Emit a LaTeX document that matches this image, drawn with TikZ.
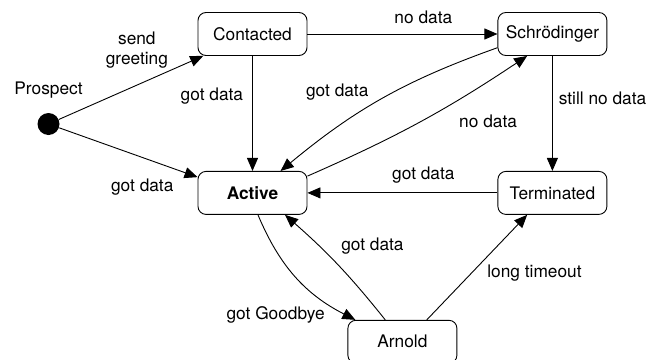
\documentclass[tikz,border=0pt]{standalone}
\usepackage{fontspec}
\setmainfont{TeX Gyre Heros}
\usetikzlibrary{positioning, arrows.meta}
\tikzset{->, >={Triangle[length=13pt, width=11pt]}, node distance = 115pt}

\begin{document}
\begin{tikzpicture}[x=1pt, y=1pt, line width=0.9pt, font=\fontsize{17.3}{20.5}\selectfont,
state_box/.style={rectangle, rounded corners=8pt, draw=black, fill=white, minimum width=109pt, minimum height=43pt, inner sep=0pt},
start_dot/.style={circle, fill=black, minimum size=22pt, inner sep=0pt},
edge_label/.style={inner sep=2pt, align=center}]
    \useasboundingbox (0,0) rectangle (661,-359);

    \node[start_dot] (start) at (48.5,-124) {};
    \node[above=10pt of start] (prospect) {Prospect};
    \node[state_box] (contacted) at (252.5,-34) {Contacted};
    \node[state_box, right=190pt of contacted] (schrodinger) {Schrödinger};
    \node[state_box, below=of contacted] (active) {\textbf{Active}};
    \node[state_box, below=of schrodinger] (terminated) {Terminated};
    \node[state_box, below right=105pt and 40pt of active] (arnold) {Arnold};

    % from the start dot
    \draw (start) -- node[edge_label, pos=.54, above=14pt] (lbl_greet) {send\\greeting} (contacted.204);
    \draw (start) -- node[edge_label, pos=.6, below=19pt] (lbl_start) {got data} (active.164);

    % upper row
    \draw (contacted) -- node[edge_label, pos=.35, left=7pt] (lbl_contact) {got data} (active);
    \draw (contacted) -- node[edge_label, pos=.61, above=8pt] (lbl_nodata) {no data} (schrodinger);
    \draw (schrodinger.194) to[bend right=10] node[edge_label, pos=.73, above=25pt] (lbl_back) {got data} (active.38);
    \draw (active.17) to[bend right=5] node[edge_label, pos=.83, below=31pt] (lbl_retry) {no data} (schrodinger.221);
    \draw (schrodinger) -- node[edge_label, pos=.37, right=4pt] (lbl_still) {still no data} (terminated);
    \draw (terminated) -- node[edge_label, pos=.39, above=7pt] (lbl_revive) {got data} (active);

    % Arnold
    \draw (active.-76) to[bend right=20] node[edge_label, pos=.93, left=18pt] (lbl_bye) {got Goodbye} (arnold.155);
    \draw (arnold.128) to[bend right=5] node[edge_label, pos=.7, right=20pt] (lbl_return) {got data} (active.-34);
    \draw (arnold.42) -- node[edge_label, pos=.45, right=13pt] (lbl_timeout) {long timeout} (terminated.221);
\end{tikzpicture}
\end{document}
